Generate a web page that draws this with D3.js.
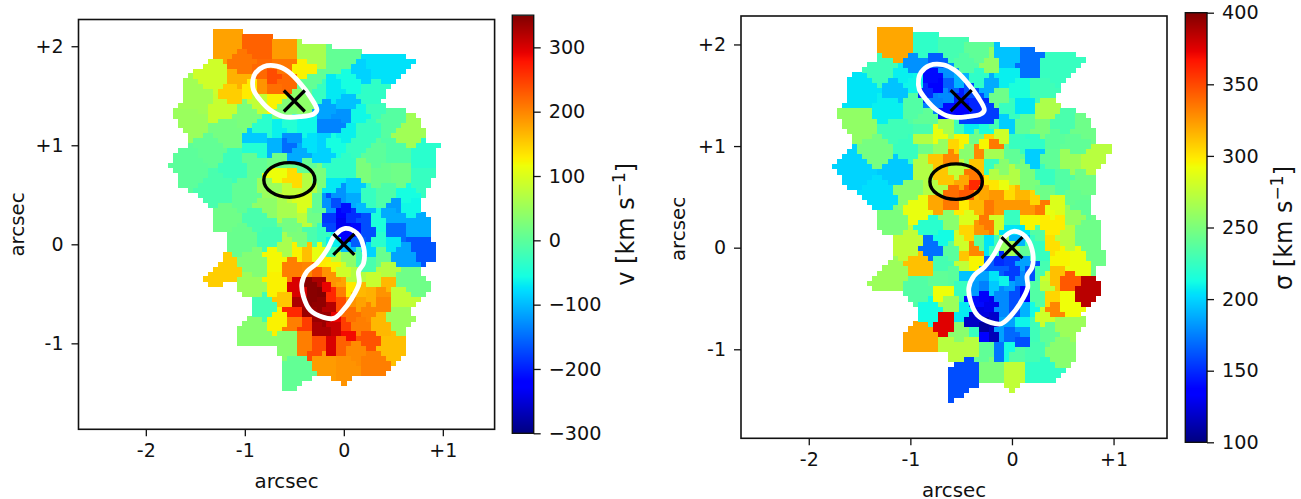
<!DOCTYPE html>
<html>
<head>
<meta charset="utf-8">
<script src="https://cdnjs.cloudflare.com/ajax/libs/d3/7.8.5/d3.min.js"></script>
<style>
body { margin: 0; background: #fff; }
svg { display: block; }
text { font-family: "DejaVu Sans", sans-serif; fill: #111; }
</style>
</head>
<body>
<svg id="fig" width="1301" height="499"></svg>
<script>
// spaxel size of the maps, bins are given as [col, row, value] in spaxels from the nucleus
const spaxel = 0.05;

const velBins = [
[-23.6,40.3,180],[-17,39.6,225],[-12,39.2,185],[-6.8,38.9,60],[-.1,37.6,5],[6.7,35.9,-75],
[-20.3,36.2,210],[-26.3,34.2,90],[-11.8,36.5,210],[-8.5,35.3,125],[-21,33.5,170],[-17,34.5,220],
[-14.2,33.5,240],[-14.2,31.5,215],[-16.2,32.2,190],[-11.8,33.2,220],[-22.6,30.8,150],[-18.9,31.5,130],
[-14.2,29.1,125],[-16.9,29.5,80],[-29.7,29.5,55],[-24.3,27.5,85],[-30.7,24.8,50],[-19.6,26.4,25],
[-23.6,23,20],[-12.2,27.4,30],[-8.8,29.1,40],[-6.8,32.5,5],[1.8,33.2,-55],[3.3,34.5,-85],
[6,30.5,-35],[-4.8,30.8,-30],[-2.1,30.5,-70],[.3,28.5,-95],[-2.8,27.5,-115],[-.4,26.4,-125],
[-1.4,24.4,-135],[-3.8,23.4,-135],[3.3,26.1,-60],[6,27.5,-25],[9.4,25,-5],[4.7,23.7,-30],
[12.7,22.4,55],[.6,22.4,-65],[-3.4,22,-85],[-7.5,23.7,-60],[-10.5,23.7,-45],[-13.5,23.4,-65],
[-16.2,23.4,-40],[-16.9,21.4,-90],[-13.9,19.7,-105],[-10.5,21.7,-125],[-11.2,20,-150],[-9.1,18.5,-110],
[-16.9,19,-45],[-6.8,20.4,-75],[-4.1,18.4,-85],[-2.1,20.7,-55],[3.3,20.4,-30],[6,17.7,0],
[10.7,18.4,-10],[16.1,17.7,-40],[-27,19,5],[-30.7,16.3,0],[-22.3,15.7,-25],[-17.6,17,5],
[-25.3,11.6,-15],[-19.6,11,5],[-13.5,14,115],[-10.2,13,140],[-14.5,11.6,50],[-11.2,11,80],
[-7.5,13,70],[-13.5,16.5,15],[-8.1,15.7,5],[-4.8,13.6,25],[-2.1,15,-35],[1.3,15.3,-35],
[4,15,25],[7.4,13.6,10],[11.4,14.3,15],[15.4,13,-30],[12.4,9.6,-55],[5,9.6,-30],
[8,10.3,-10],[2,11.6,-90],[-2.1,12.3,-70],[-.4,10.3,-125],[-2.1,8.3,-170],[.3,7.6,-210],
[2,9.3,-110],[3.3,7.6,-100],[10.7,7.9,-120],
[-.7,6.3,-220],[-2.8,5.6,-185],[1.6,6.3,-190],[-.4,3.9,-235],[-3.1,3.6,-175],[-2.8,8,-125],
[4,4.9,-170],[2.6,3.2,-215],[5,2.2,-170],[-.1,1.5,-225],[2.6,.5,-160],[1.3,-.8,-100],
[-1.7,.5,-65],[-2.1,-1.1,-20],[-4.1,2.6,-30],[-6.5,2.2,-15],[6.7,4.2,-50],[10,6.3,-110],
[12.7,8,-60],[14.8,3.6,-110],[10.4,2.6,-150],[15.4,-.5,-165],[12,-2.2,-115],[9.7,0,-70],
[6.7,.9,-40],[5.3,-1.2,-85],[7.4,-2.2,10],[5,-3.8,-15],[8.7,-4.9,70],[13,-7.2,15],
[6.7,-7.2,85],[8.7,-7.5,165],[11,-10.6,80],[7.7,-9.9,190],[5.3,-10.6,170],[7.7,-11.3,200],
[11,-15,50],[3.3,-11.9,180],[4.7,-13.3,200],[1.3,-14.3,215],[7,-16.3,165],[3.3,-16.3,205],
[.6,-16.3,250],[9.4,-20.7,160],[4.7,-19.3,235],[.9,-18.3,285],[-3.4,-17.6,325],[-1.7,-17,310],
[-5.4,-17,325],[-7.5,-16.3,250],[-10.5,-16,205],[-8.1,-19.3,205],[-5.1,-20,240],[-2.8,-20,300],
[-.4,-20,225],[2.3,-21.4,195],[-3.4,-24,185],[.3,-24.4,190],[5.7,-24,205],[-9.2,-26,5],
[-11.5,-19.3,35],[-17.9,-17,35],[-10.2,-13.6,265],[-13.2,-15.3,125],[-16.2,-12.3,-20],[-11.8,-10.9,155],
[-13.5,-7.9,125],[-18.2,-8.6,50],[-24.3,-5.5,150],[-17.9,-3.5,30],[-13.9,-3.2,120],[-10.5,-4.5,205],
[-7.5,-4.5,200],[-9.5,-1.5,125],[-11.8,-.8,60],[-7.5,-1.8,160],[-4.8,-2.2,110],[-1.4,-2.8,80],
[1.3,-2.8,40],[3,-2.5,-20],[-4.1,-3.8,130],[-2.1,-4.5,125],[-.1,-5.5,90],[2.3,-6.5,70],
[-3.4,-5.9,190],[-5.4,-5.2,225],[-2.1,-7.2,190],[-.1,-7.9,180],[1.6,-8.9,130],[3,-9.9,165],
[-.4,-9.9,205],[-2.1,-10.6,265],[-3.4,-8.2,290],[-4.8,-7.2,325],[-6.8,-8.6,345],[-4.8,-9.9,348],
[-6.8,-10.9,345],[-4.8,-12,340],[-2.8,-12.6,320],[-6.8,-13.3,335],[-9.2,-9.2,300],[-9.5,-11.6,325],
[-.7,-11.9,240],[2,-11.3,190],[-4.1,-14.3,335],[-1.4,-14.6,290],
[-24.5,4.5,15],[-15,7,40],[-16.2,5.3,-15],[-20.3,.9,10],[-14.9,1.5,-20],[-8.1,5,75],
[-10.2,4.2,20],[-6.1,5.6,15],[-11.5,7,60],[-8.1,8.3,100],[-5.4,7.6,5],[-8.8,1.5,25]
];

const sigBins = [
[-23,39.9,320],[-16.8,39.9,222],[-11.9,39.2,230],[-7,38.2,240],[-1,37.6,195],[3.5,36.3,170],
[8.1,35.6,225],[-19.1,36,180],[-14.5,36.9,165],[-25.3,35,228],[-21,34,208],[-29.3,30.7,205],
[-22.7,31.3,195],[-19.4,32.7,210],[-24,27.4,208],[-19.4,27.7,235],[-30,24.5,258],[-22.7,23.2,228],
[-16.8,25.8,240],[-16.8,23.2,232],[-26.6,18.9,248],[-20.7,19.5,225],[-30.6,15.6,200],[-22.4,15.6,197],
[-26,10.4,203],[-20.1,11,255],[-17.5,15.9,270],[-16.8,20.2,245],[-16.8,21.5,270],[-14.5,22.2,290],
[-13.8,19.9,260],[-11.6,20.2,305],[-9.6,21.5,295],[-8.9,18.6,255],[-11.9,17.9,330],[-14.5,17.2,310],
[-6.4,18.6,330],[-5.3,20.5,295],[-3.5,20.5,335],[-4.7,22.2,305],[-2.4,22.5,280],[-7,21.8,245],
[-8.3,23.5,207],[-10.6,23.5,228],[-12.5,23.5,265],[-5,23.2,215],[-3,23.8,230],[-1.4,24.8,198],
[-4.3,25.8,155],[-8.9,25.1,155],[-10.2,27.1,135],[-12.2,27.4,140],[-15.2,29,175],[-16.5,30.4,150],
[-14.5,31.7,135],[-15.5,34,140],[-12.5,34.3,180],[-12.5,32,165],[-10.2,33,190],[-8.3,30.7,160],
[-9.9,29.4,145],[-7.3,27.7,148],[-12.9,30,178],[-4.3,32,188],[-6.6,33.3,222],[-4.3,36,258],
[-8.9,36.3,235],[-1.4,33.6,208],[1.6,30.7,215],[5.5,30.7,228],[-2,30,245],[2.2,28,205],
[-.7,27.4,225],[6.2,27.4,268],[10.4,24.5,232],[14,23.8,245],[2.9,24.5,240],[5.5,23.2,250],
[1.6,20.5,225],[4.5,20.9,222],[8.1,21.2,238],[12.1,20.5,240],[11.1,17.2,262],[16,16.9,272],
[4.2,17.9,198],[7.5,17.2,240],[.3,17.9,240],[-3.7,18.6,265],[-4.3,16.3,225],[-1.7,15.9,255],
[1.6,15.9,250],[-3,14.3,270],[.3,14.6,270],[-1.7,12.6,290],[-3.7,12.6,300],[2.9,12.6,250],
[6.8,14.3,225],[9.8,13.3,235],[14,12.6,245],[6.2,10.7,245],[12.7,10,242],[-10.9,15.3,275],
[-13.2,14,310],[-9.9,13,320],[-7.6,14.3,335],[-7.3,12.3,360],[-11.6,10.7,338],[-8.9,11,345],
[-6.6,16.6,310],[-5.7,11.3,320],[-14.8,12,270],[-2.7,10.3,325],[-.4,10.4,303],[1.9,10.4,315],
[4.9,9.4,305],[8.5,8.4,285],[-18.1,8.7,290],[-14.8,8.7,320],[-9.6,8,298],[-11.6,9,335],
[-4.3,8.1,335],[-6.6,8.4,315],[-.4,8.4,325],[2.9,8.4,325],[5.8,8,335],
[-23.7,4.8,250],[-17.5,7.4,290],[-15.8,4.2,220],[-11.9,5.5,255],[-8.9,6.1,285],[-13.5,2.2,212],
[-20.4,.9,275],[-15.5,.2,170],[-11.9,-.8,238],[-9.9,.9,280],[-8.3,2.5,305],[-5.3,4.8,335],
[-6.3,3.5,325],[-3,7.8,325],[-2.4,5.5,280],[-.4,3.8,205],[1.6,3.5,205],[-.4,5.8,225],
[3.5,4.8,295],[4.9,3.2,235],[6.8,4.8,298],[9.1,4.8,298],[7.5,7.4,290],[10.8,2.2,272],
[14.7,2.8,245],[12.1,6.4,260],[13,8.1,240],[17,-2.1,245],[7.8,.5,302],[5.5,-1.1,225],
[9.4,-1.8,295],[13.1,-3.1,290],[6.8,-5.7,280],[8.5,-5.7,312],[11.4,-6.3,345],[14.4,-8.3,385],
[7.5,-10,305],[10.8,-10.6,292],[7.8,-11.9,330],[6.2,-13.6,280],[10.8,-15.5,262],[4.2,-15.9,228],
[6.8,-16.5,240],[9.4,-19.8,255],[4.2,-20.1,230],[.9,-20.8,235],[5.8,-24,222],[-.1,-24,275],
[-3.4,-24,250],[-8.9,-24,160],[-.4,-20.1,213],[-2.4,-20.1,172],[-5,-20.1,240],[-11.2,-20.1,272],
[-8,-19.1,272],[-17.5,-17.5,320],[-13.2,-14.5,375],[-9.9,-16.5,255],[-7.6,-16.5,225],[-15.8,-12.6,212],
[-11.9,-11,262],[-9.6,-12.6,207],[-13.5,-8.3,292],[-18.1,-8,235],[-23.7,-5,262],[-17.8,-3.4,312],
[-13.9,-3.1,230],[-13.9,-6.3,240],[-10.9,-5.4,238],[-10.2,-8,225],[-9.9,-3.1,275],[-9.6,-1.4,310],
[-7.6,-.4,330],[-7.3,-2.4,295],[-9.3,-5.4,195],
[-5,.5,205],[-6.3,.9,238],[-3,.2,228],[-1.7,.5,260],[-.1,-.1,265],[2.2,-.4,240],
[4.2,.9,225],[1.6,2.2,190],[-2.4,-2.1,150],[-.1,-2.4,155],[2.2,-2.7,185],[4.2,-4,160],
[-4.3,-3.4,165],[-5.6,-5.4,185],[-3.4,-5.7,205],[-2,-4.4,165],[-.1,-4.7,155],[1.6,-6.3,178],
[-1.7,-6.7,210],[-.1,-7.3,185],[-3.4,-8,197],[-5.3,-7.7,175],[-7,-8,183],[-7.3,-10.3,140],
[-5.3,-9.6,132],[-4.3,-11,128],[-2,-9,178],[.3,-9,160],[1.9,-9,135],[-1.7,-11.6,178],
[.3,-11.6,160],[2.2,-11.6,190],[4.2,-11.6,212],[-6.3,-12.9,125],[-3.7,-13.2,120],[-5.6,-15.2,108],
[-7.6,-14.2,118],[-.4,-14.9,185],[1.6,-14.5,210],[2.2,-16.5,183],[-.1,-16.8,168],[-2,-16.8,185],
[-5.3,-17.5,135],[-3.4,-17.5,115],[1.6,-18.5,160],[5.2,-10.3,235],[6.2,-7.7,275],[4.9,-8.3,235],
[5.5,-4.4,230]
];

// edge of the field covered by each map, in spaxels
const velOutline = [
[-26.5,43.4],[-20.5,43.4],[-19.5,42.5],[-14.5,42.5],[-14.2,41.4],[-9.5,41.4],[-7.5,40.5],[-3.6,40.5],
[-1.7,39.6],[3.3,39.4],[4.7,38.6],[11.4,38.4],[14.4,37.4],[14.4,36.5],[12.4,35.2],[10.4,32.5],
[8.7,30.8],[7.3,29.1],[9.4,27.5],[11.4,27.5],[14.4,26.3],[16.4,22.4],[16.4,20.4],[19.5,20.4],
[19.5,19.6],[18.5,18.4],[18.5,14.3],[16.4,10.6],[15.4,6.9],[16.4,6.4],[17.4,4.9],[17.4,1.5],
[18.5,-.5],[18.5,-3.5],[15.4,-4.5],[15.4,-5.5],[16.4,-6.5],[17.4,-8.9],[14.4,-12.3],[13.4,-12.6],
[14.4,-15],[12.4,-17.3],[12.4,-22.4],[10.4,-23.4],[9.4,-25.4],[8.7,-26.4],[2.6,-26.4],[1.6,-27.4],
[.6,-28.4],[-.4,-28.4],[-1.4,-27.4],[-5.4,-26.4],[-8.5,-27.7],[-9.5,-29.4],[-11.5,-29.4],[-12.5,-30.4],
[-12.5,-22.7],[-13.5,-21.4],[-14.5,-20.3],[-21.5,-20.3],[-21.5,-16.6],[-19.6,-14.6],[-18.2,-14.3],[-18.6,-11.2],
[-21.5,-9.2],[-21.5,-7.5],[-27.7,-8.4],[-28.5,-6.9],[-23.6,-1.5],[-23.3,2.2],[-25.7,2.6],[-26.7,3.6],
[-26.7,7.3],[-28.3,9],[-29.4,10.3],[-33,11.6],[-34.4,15],[-35.4,16],[-33.7,18.7],[-31.4,19.7],
[-31.4,21.4],[-33.4,23.7],[-33.4,25.4],[-34.4,26.1],[-34.4,27.5],[-32.4,29.1],[-32.4,33.5],[-29.4,35.5],
[-26.7,37.4]
];

const sigOutline = [
[-26.3,43.5],[-20.4,43.5],[-19.4,42.4],[-14.5,42.4],[-14.3,41.5],[-9.6,41.4],[-7.3,40.3],[-3.4,40.3],
[-1.7,39.4],[3.5,39.4],[5.5,38.4],[11.4,38.4],[14.5,37.4],[14.5,36.6],[12.4,35.3],[10.4,32.7],
[8.8,30.7],[8.5,29.4],[10.1,27.4],[11.4,27.4],[14.5,26.3],[16.3,22.4],[16.5,20.4],[19.4,20.4],
[19.3,19.5],[18.5,16.6],[16.5,14.6],[16.5,10.7],[15.5,10],[15.5,7.4],[16.5,6.4],[17.6,4.2],
[17.6,-.4],[18.5,-1.4],[18.5,-3.4],[16.5,-3.7],[16.5,-4.5],[17.5,-9],[14.7,-11.6],[13.6,-12.6],
[14.5,-14.9],[12.4,-17.5],[12.4,-22.1],[9.4,-24.7],[8.5,-26.4],[2.6,-26.4],[1.6,-27.3],[.6,-28.3],
[-.4,-28.3],[-1.4,-26.7],[-5.3,-26.4],[-8.3,-27.7],[-9.6,-29.3],[-11.6,-29.6],[-12.3,-30.4],[-12.3,-23.7],
[-11.6,-22.8],[-13.2,-20.5],[-21.4,-20.5],[-21.4,-16.5],[-19.4,-14.5],[-18.4,-13.6],[-18.4,-11.6],[-21.4,-9],
[-21.4,-8],[-27.3,-8.3],[-28.3,-6.7],[-23.4,-1.8],[-23.4,2.5],[-25.3,2.8],[-26.3,3.8],[-26.3,7.4],
[-28.3,8.6],[-29.3,9.4],[-31.2,11.3],[-33.5,12.6],[-34.4,15.6],[-35.3,15.9],[-33.5,18.6],[-31.2,19.5],
[-31.2,21.2],[-33.3,23.8],[-33.3,25.4],[-34.4,26.1],[-34.4,27.4],[-32.4,28.4],[-32.4,33.3],[-29.3,35.3],
[-26.3,37.3]
];

// white contours, arcsec
const upperContour = [
[-.895,1.726],[-.811,1.794],[-.677,1.8],[-.559,1.743],[-.441,1.625],[-.34,1.49],[-.272,1.356],[-.306,1.315],
[-.441,1.289],[-.609,1.289],[-.744,1.356],[-.845,1.457],[-.912,1.558],[-.919,1.659]
];
const lowerContour = [
[.014,.161],[.132,.111],[.199,-.024],[.199,-.192],[.149,-.276],[.155,-.394],[.081,-.546],[-.02,-.68],
[-.104,-.748],[-.205,-.738],[-.34,-.664],[-.407,-.529],[-.424,-.394],[-.373,-.276],[-.272,-.192],[-.171,-.058],
[-.087,.094]
];
const crossPoints = [[0, 0], [-.5, 1.447]];
const ellipseCentre = [-.55, .65];
const ellipseRadii = [.258, .175];

const xTicks = [-2, -1, 0, 1];
const xTickLabels = ['-2', '-1', '0', '+1'];
const yTicks = [-1, 0, 1, 2];
const yTickLabels = ['-1', '0', '+1', '+2'];
const velTicks = [-300, -200, -100, 0, 100, 200, 300];
const sigTicks = [100, 150, 200, 250, 300, 350, 400];

const jetR = d3.scaleLinear().domain([0, .35, .66, .89, 1]).range([0, 0, 1, 1, .5]).clamp(true);
const jetG = d3.scaleLinear().domain([0, .125, .375, .64, .91, 1]).range([0, 0, 1, 1, 0, 0]).clamp(true);
const jetB = d3.scaleLinear().domain([0, .11, .34, .65, 1]).range([.5, 1, 1, 0, 0]).clamp(true);

function jet(t) {
    return d3.rgb(jetR(t) * 255, jetG(t) * 255, jetB(t) * 255).formatRgb();
}

const svg = d3.select('#fig');

function drawMap(p) {
    const g = svg.append('g');
    const x = d3.scaleLinear().domain(p.xDomain).range([p.left, p.right]);
    const y = d3.scaleLinear().domain(p.yDomain).range([p.bottom, p.top]);
    const colorT = d3.scaleLinear().domain(p.range).range([0, 1]);

    // every spaxel inside the field takes the value of the closest bin
    const cells = [];
    d3.range(-38, 22).forEach(function(i) {
        d3.range(-33, 46).forEach(function(j) {
            if (!d3.polygonContains(p.outline, [i, j])) return;
            let best = null;
            let bestDist = Infinity;
            p.bins.forEach(function(b) {
                const dist = (b[0] - i) ** 2 + (b[1] - j) ** 2;
                if (dist < bestDist) { bestDist = dist; best = b; }
            });
            cells.push({ i: i, j: j, value: best[2] });
        });
    });

    g.append('g')
        .attr('shape-rendering', 'crispEdges')
        .selectAll('rect')
        .data(cells)
        .enter()
        .append('rect')
            .attr('x', d => x((d.i - .5) * spaxel))
            .attr('y', d => y((d.j + .5) * spaxel))
            .attr('width', x(spaxel) - x(0) + .5)
            .attr('height', y(0) - y(spaxel) + .5)
            .attr('fill', d => jet(colorT(d.value)));

    const contour = d3.line().x(d => x(d[0])).y(d => y(d[1])).curve(d3.curveCatmullRomClosed);
    [upperContour, lowerContour].forEach(function(c) {
        g.append('path')
            .attr('d', contour(c))
            .attr('fill', 'none')
            .attr('stroke', '#fff')
            .attr('stroke-width', 4.8);
    });

    g.append('ellipse')
        .attr('cx', x(ellipseCentre[0]))
        .attr('cy', y(ellipseCentre[1]))
        .attr('rx', x(ellipseRadii[0]) - x(0))
        .attr('ry', y(0) - y(ellipseRadii[1]))
        .attr('fill', 'none')
        .attr('stroke', '#000')
        .attr('stroke-width', 3.4);

    g.selectAll('.cross')
        .data(crossPoints)
        .enter()
        .append('path')
            .attr('class', 'cross')
            .attr('d', d => {
                const cx = x(d[0]), cy = y(d[1]), r = 10.5;
                return `M${cx - r},${cy - r}L${cx + r},${cy + r}M${cx - r},${cy + r}L${cx + r},${cy - r}`;
            })
            .attr('stroke', '#000')
            .attr('stroke-width', 3.2);

    g.append('rect')
        .attr('x', p.left)
        .attr('y', p.top)
        .attr('width', p.right - p.left)
        .attr('height', p.bottom - p.top)
        .attr('fill', 'none')
        .attr('stroke', '#111')
        .attr('stroke-width', 1.6);

    const xAxis = g.append('g')
        .attr('transform', `translate(0,${p.bottom})`)
        .call(d3.axisBottom(x).tickValues(xTicks).tickFormat((d, k) => xTickLabels[k]).tickSize(7).tickPadding(7));
    const yAxis = g.append('g')
        .attr('transform', `translate(${p.left},0)`)
        .call(d3.axisLeft(y).tickValues(yTicks).tickFormat((d, k) => yTickLabels[k]).tickSize(7).tickPadding(8));
    [xAxis, yAxis].forEach(function(a) {
        a.select('.domain').remove();
        a.selectAll('line').attr('stroke', '#111').attr('stroke-width', 1.3);
        a.selectAll('text').attr('font-family', '"DejaVu Sans"').attr('font-size', 19);
    });

    g.append('text')
        .attr('x', (p.left + p.right) / 2)
        .attr('y', p.xLabelY)
        .attr('text-anchor', 'middle')
        .attr('font-size', 19.8)
        .text('arcsec');
    g.append('text')
        .attr('transform', `translate(${p.yLabelX},${p.yLabelY}) rotate(-90)`)
        .attr('text-anchor', 'middle')
        .attr('font-size', 19.8)
        .text('arcsec');

    // colorbar
    const c = p.bar;
    const cy = d3.scaleLinear().domain(p.range).range([c.bottom, c.top]);
    g.append('g')
        .attr('shape-rendering', 'crispEdges')
        .selectAll('rect')
        .data(d3.range(Math.ceil(c.top), Math.ceil(c.bottom)))
        .enter()
        .append('rect')
            .attr('x', c.left)
            .attr('y', d => d)
            .attr('width', c.right - c.left)
            .attr('height', 1.2)
            .attr('fill', d => jet(colorT(cy.invert(d + .5))));
    g.append('rect')
        .attr('x', c.left)
        .attr('y', c.top)
        .attr('width', c.right - c.left)
        .attr('height', c.bottom - c.top)
        .attr('fill', 'none')
        .attr('stroke', '#111')
        .attr('stroke-width', 1.4);
    const cAxis = g.append('g')
        .attr('transform', `translate(${c.right},0)`)
        .call(d3.axisRight(cy).tickValues(p.ticks).tickFormat(d => String(d).replace('-', '\u2212')).tickSize(7).tickPadding(8));
    cAxis.select('.domain').remove();
    cAxis.selectAll('line').attr('stroke', '#111').attr('stroke-width', 1.3);
    cAxis.selectAll('text').attr('font-family', '"DejaVu Sans"').attr('font-size', 19.2);

    const label = g.append('text')
        .attr('transform', `translate(${p.barLabelX},${p.barLabelY}) rotate(-90)`)
        .attr('text-anchor', 'middle')
        .attr('font-size', 24);
    label.append('tspan').text(`${p.symbol} [km s`);
    label.append('tspan').attr('dy', -9).attr('font-size', 17).text('\u22121');
    label.append('tspan').attr('dy', 9).text(']');
}

drawMap({
    bins: velBins, outline: velOutline, range: [-300, 350], ticks: velTicks, symbol: 'v',
    xDomain: [-2.68, 1.523], yDomain: [-1.868, 2.27],
    left: 78.5, right: 494.6, top: 19.5, bottom: 429.3,
    xLabelY: 488, yLabelX: 24, yLabelY: 224.5,
    bar: { left: 512.3, right: 533.7, top: 15.2, bottom: 433.3 },
    barLabelX: 634, barLabelY: 224.3
});

drawMap({
    bins: sigBins, outline: sigOutline, range: [100, 400], ticks: sigTicks, symbol: '\u03c3',
    xDomain: [-2.667, 1.526], yDomain: [-1.876, 2.28],
    left: 741, right: 1167, top: 16, bottom: 438.3,
    xLabelY: 497, yLabelX: 685, yLabelY: 229,
    bar: { left: 1185.3, right: 1207, top: 12.7, bottom: 442.3 },
    barLabelX: 1292, barLabelY: 228
});
</script>
</body>
</html>
